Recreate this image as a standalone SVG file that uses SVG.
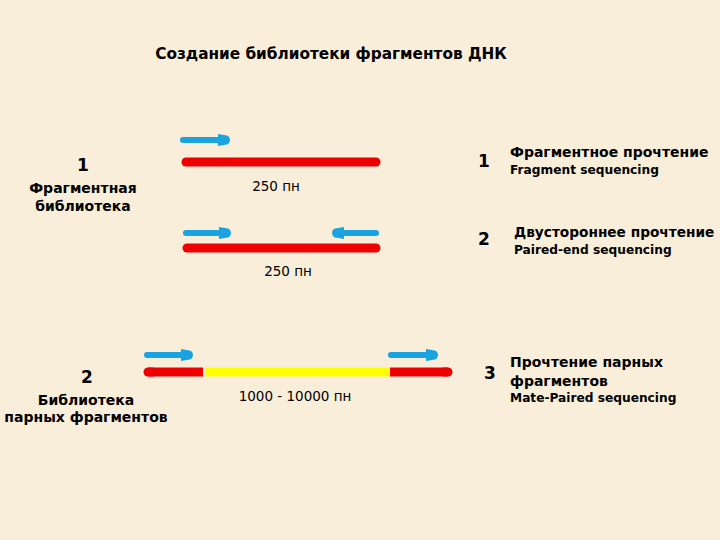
<svg xmlns="http://www.w3.org/2000/svg" width="720" height="540" viewBox="0 0 720 540">
<defs>
<style>
.t{font-family:"DejaVu Sans","Liberation Sans",Arial,sans-serif;fill:#000}
.b{font-weight:bold}
.red{stroke:#ee0000;stroke-width:9;stroke-linecap:round;fill:none}
.yel{stroke:#ffff00;stroke-width:9;fill:none}
.blue{stroke:#19a3e0;stroke-width:6;stroke-linecap:round;fill:none}
.bh{fill:#19a3e0}
</style>
<marker id="ah" viewBox="0 0 10 10" refX="5" refY="5" markerWidth="2" markerHeight="2" orient="auto" markerUnits="strokeWidth">
<path class="bh" d="M0,0 L6,1 A4,4 0 0 1 6,9 L0,10 Z"/>
</marker>
</defs>
<rect width="720" height="540" fill="#f8eed9"/>
<text class="t b" x="331" y="59" font-size="15.3" text-anchor="middle">Создание библиотеки фрагментов ДНК</text>

<g id="lib1">
<text class="t b" x="83" y="171" font-size="17" text-anchor="middle">1</text>
<text class="t b" x="83" y="193" font-size="14" text-anchor="middle">Фрагментная</text>
<text class="t b" x="83" y="211" font-size="14" text-anchor="middle">библиотека</text>
</g>
<g id="lib2">
<text class="t b" x="87" y="383" font-size="17" text-anchor="middle">2</text>
<text class="t b" x="86" y="405" font-size="14" text-anchor="middle">Библиотека</text>
<text class="t b" x="86" y="422" font-size="14" text-anchor="middle">парных фрагментов</text>
</g>

<g id="connectors">
<line class="blue" x1="183" y1="140" x2="224" y2="140" marker-end="url(#ah)"/>
<line class="red" x1="186" y1="162" x2="376" y2="162"/>

<line class="blue" x1="186" y1="233" x2="225" y2="233" marker-end="url(#ah)"/>
<line class="blue" x1="376" y1="233" x2="338" y2="233" marker-end="url(#ah)"/>
<line class="red" x1="187" y1="248" x2="376" y2="248"/>

<line class="blue" x1="147" y1="355" x2="187" y2="355" marker-end="url(#ah)"/>
<line class="blue" x1="391" y1="355" x2="432" y2="355" marker-end="url(#ah)"/>
<line class="yel" x1="205" y1="372" x2="390" y2="372"/>
<line class="red" x1="148" y1="372" x2="203" y2="372" style="stroke-linecap:butt"/>
<line class="red" x1="148" y1="372" x2="152" y2="372"/>
<line class="red" x1="390" y1="372" x2="448" y2="372" style="stroke-linecap:butt"/>
<line class="red" x1="444" y1="372" x2="448" y2="372"/>
</g>

<g id="labels">
<text class="t" x="276" y="191" font-size="13.5" text-anchor="middle">250 пн</text>
<text class="t" x="288" y="276" font-size="13.5" text-anchor="middle">250 пн</text>
<text class="t" x="295" y="401" font-size="13.5" text-anchor="middle">1000 - 10000 пн</text>
</g>

<g id="seq1">
<text class="t b" x="484" y="167" font-size="17" text-anchor="middle">1</text>
<text class="t b" x="510" y="157" font-size="14">Фрагментное прочтение</text>
<text class="t b" x="510" y="174" font-size="12.2">Fragment sequencing</text>
</g>
<g id="seq2">
<text class="t b" x="484" y="245" font-size="17" text-anchor="middle">2</text>
<text class="t b" x="514" y="237" font-size="13.7">Двустороннее прочтение</text>
<text class="t b" x="514" y="254" font-size="12.2">Paired-end sequencing</text>
</g>
<g id="seq3">
<text class="t b" x="490" y="379" font-size="17" text-anchor="middle">3</text>
<text class="t b" x="510" y="367" font-size="14">Прочтение парных</text>
<text class="t b" x="510" y="386" font-size="14">фрагментов</text>
<text class="t b" x="510" y="402" font-size="12.2">Mate-Paired sequencing</text>
</g>
</svg>
